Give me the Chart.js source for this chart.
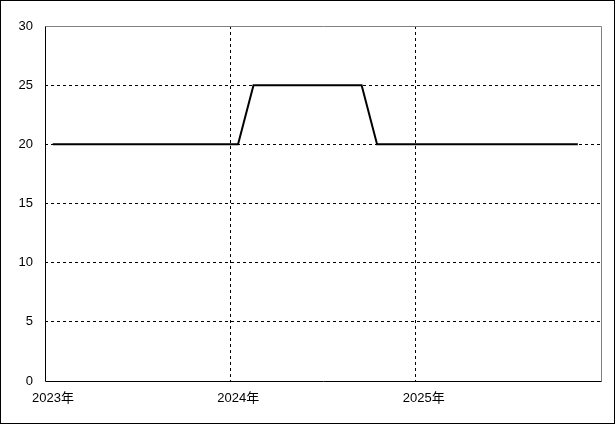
<!DOCTYPE html>
<html><head><meta charset="utf-8">
<script src="https://cdn.jsdelivr.net/npm/chart.js@4/dist/chart.umd.min.js"></script>
<style>
html,body{margin:0;padding:0;background:#fff;}
#wrap{width:615px;height:424px;box-sizing:border-box;border:1px solid #000;position:relative;}
canvas{display:block;}
</style></head><body>
<div id="wrap"><canvas id="c" width="613" height="422"></canvas></div>
<script>
// Monthly categories Jan 2023 – Nov 2025 (points at mid-month)
const categories = ["2023-01","2023-02","2023-03","2023-04","2023-05","2023-06","2023-07","2023-08","2023-09","2023-10","2023-11","2023-12",
  "2024-01","2024-02","2024-03","2024-04","2024-05","2024-06","2024-07","2024-08","2024-09","2024-10","2024-11","2024-12",
  "2025-01","2025-02","2025-03","2025-04","2025-05","2025-06","2025-07","2025-08","2025-09","2025-10","2025-11"];
const values = [20,20,20,20,20,20,20,20,20,20,20,20,
  20,25,25,25,25,25,25,25,25,20,20,20,
  20,20,20,20,20,20,20,20,20,20,20];
const yearLabels = ["2023年","2024年","2025年"];
const yTicks = [0,5,10,15,20,25,30];

const startYear = 2023;
const points = categories.map((c,i)=>{
  const [y,m] = c.split("-").map(Number);
  return {x:(y-startYear)*12+(m-1)+0.5, y:values[i]};
});
const xMax = (yearLabels.length)*12;

const frame = {
  id:'frame',
  afterDraw(chart){
    const {ctx, chartArea:a} = chart;
    ctx.save();
    ctx.lineWidth=1;
    ctx.strokeStyle='#808080';
    ctx.beginPath();
    ctx.moveTo(Math.round(a.left)+0.5, Math.round(a.top)+0.5);
    ctx.lineTo(Math.round(a.right)+0.5, Math.round(a.top)+0.5);
    ctx.lineTo(Math.round(a.right)+0.5, Math.round(a.bottom)+0.5);
    ctx.stroke();
    ctx.strokeStyle='#000';
    ctx.beginPath();
    ctx.moveTo(Math.round(a.left)+0.5, Math.round(a.top)+0.5);
    ctx.lineTo(Math.round(a.left)+0.5, Math.round(a.bottom)+0.5);
    ctx.lineTo(Math.round(a.right)+0.5, Math.round(a.bottom)+0.5);
    ctx.stroke();
    ctx.restore();
  }
};

const font = {family:"'Liberation Sans','Noto Sans CJK JP',sans-serif", size:13};

new Chart(document.getElementById('c'), {
  type:'line',
  data:{datasets:[{data:points, borderColor:'#000', borderWidth:2, pointRadius:0, tension:0, fill:false}]},
  options:{
    responsive:false, animation:false,
    plugins:{legend:{display:false}, tooltip:{enabled:false}},
    layout:{padding:{top:25,right:13,left:0,bottom:0}},
    scales:{
      x:{type:'linear', min:0, max:xMax,
        afterBuildTicks(s){ s.ticks = Array.from({length:yearLabels.length+1},(_,i)=>({value:i*12})); },
        afterFit(s){ s.height = 42; },
        ticks:{font, color:'#000', padding:10, labelOffset:8, maxRotation:0, autoSkip:false,
          callback:(v)=> yearLabels[v/12] || ''},
        grid:{drawTicks:false, color:(c)=> (c.tick && (c.tick.value===0 || c.tick.value===xMax)) ? 'rgba(0,0,0,0)' : '#000', lineWidth:1},
        border:{display:false, dash:[3,3]}
      },
      y:{min:0, max:30,
        afterBuildTicks(s){ s.ticks = yTicks.map(v=>({value:v})); },
        afterFit(s){ s.width = 44; },
        ticks:{font, color:'#000', padding:12},
        grid:{drawTicks:false, color:(c)=> (c.tick && (c.tick.value===0 || c.tick.value===30)) ? 'rgba(0,0,0,0)' : '#000', lineWidth:1},
        border:{display:false, dash:[3,3]}
      }
    }
  },
  plugins:[frame]
});
</script>
</body></html>
